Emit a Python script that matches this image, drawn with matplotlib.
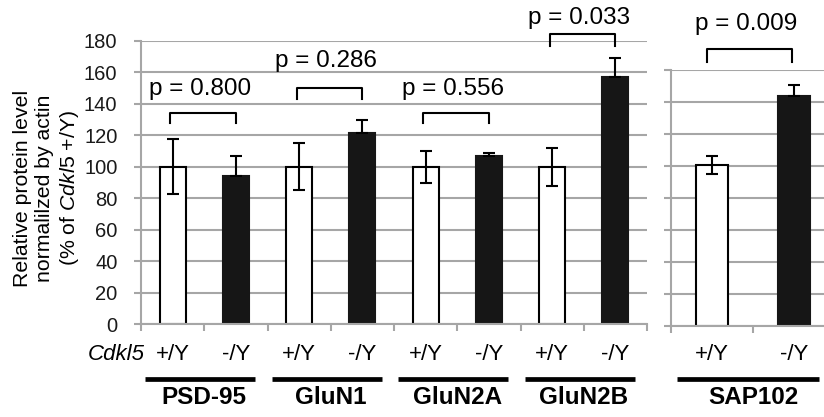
import numpy as np
import matplotlib
matplotlib.use("Agg")
import matplotlib.pyplot as plt
from matplotlib import transforms
from matplotlib.lines import Line2D

plt.rcParams['font.family'] = ['Liberation Sans', 'DejaVu Sans']
plt.rcParams['mathtext.fontset'] = 'custom'
plt.rcParams['mathtext.it'] = 'Liberation Sans:italic'
plt.rcParams['mathtext.rm'] = 'Liberation Sans'

# data
groups = ['PSD-95', 'GluN1', 'GluN2A', 'GluN2B']
wt_mean = [100, 100, 100, 100]
wt_err = [17.6, 15, 10, 12]
ko_mean = [94, 121.5, 107, 157]
ko_err = [13, 8.5, 2, 12]
p_vals = ['0.800', '0.286', '0.556', '0.033']

sap_group = 'SAP102'
sap_mean = [100.6, 143.5]
sap_err = [5.5, 7]
sap_p = '0.009'

genotypes = ['+/Y', '-/Y']

# layout for brackets / p-value texts (data units)
bracket_top = [134, 150.4, 134, 184.3]
bracket_leg = [127.6, 143, 127.6, 177]
ptext_y = [149.5, 167, 149.5, 194.5]
sap_bracket = (173, 165, 189)

grid_c = '#a6a6a6'
dark = '#161616'
W, H = 824, 417

fig = plt.figure(figsize=(W / 100, H / 100), dpi=100)
ax = fig.add_axes([141 / W, (H - 324) / H, 506 / W, 283 / H])
ax2 = fig.add_axes([671 / W, (H - 326) / H, 164 / W, 256 / H])


def style(a, ymax, n):
    a.set_ylim(0, ymax)
    a.set_xlim(-0.5, n - 0.5)
    a.set_yticks(np.arange(0, ymax + 1, 20))
    a.set_xticks(np.arange(n + 1) - 0.5)
    a.set_xticklabels([])
    a.yaxis.grid(True, color=grid_c, lw=1.5)
    a.set_axisbelow(True)
    for s in ['top', 'right']:
        a.spines[s].set_visible(False)
    for s in ['left', 'bottom']:
        a.spines[s].set_color(grid_c)
        a.spines[s].set_linewidth(1.5)
    a.tick_params(axis='both', colors=grid_c, length=5, width=1.5, direction='out')
    a.tick_params(axis='y', labelcolor='#1a1a1a', labelsize=14.5, pad=12)


style(ax, 180, 8)
style(ax2, 160, 2)
ax2.set_yticklabels([])

eb = dict(fmt='none', ecolor='black', elinewidth=1.5, capsize=4.5, capthick=1.5, zorder=3)

bw = 0.41
xw = np.arange(len(groups)) * 2
xk = xw + 1
ax.bar(xw, wt_mean, bw, color='white', edgecolor='black', lw=1.5, zorder=2)
ax.bar(xk, ko_mean, bw, color=dark, edgecolor=dark, lw=1.5, zorder=2)
ax.errorbar(xw, wt_mean, yerr=wt_err, **eb)
ax.errorbar(xk, ko_mean, yerr=[np.zeros(len(ko_err)), ko_err], **eb)

for i in range(len(groups)):
    x0, x1 = xw[i] - 0.04, xk[i]
    ax.plot([x0, x0, x1, x1], [bracket_leg[i], bracket_top[i], bracket_top[i], bracket_leg[i]],
            color='black', lw=1.5, clip_on=False, zorder=4)
    ax.text(xw[i] + 0.43, ptext_y[i], 'p = ' + p_vals[i], ha='center', va='center',
            fontsize=17.5, clip_on=False)

xs = np.arange(2)
ax2.bar(xs, sap_mean, 0.4, color=['white', dark], edgecolor=['black', dark], lw=1.5, zorder=2)
ax2.errorbar(xs[:1], sap_mean[:1], yerr=sap_err[:1], **eb)
ax2.errorbar(xs[1:], sap_mean[1:], yerr=[[0], sap_err[1:]], **eb)
bt, bl, py = sap_bracket
ax2.plot([-0.06, -0.06, 0.98, 0.98], [bl, bt, bt, bl], color='black', lw=1.5, clip_on=False)
ax2.text(0.415, py, 'p = ' + sap_p, ha='center', va='center', fontsize=17.5, clip_on=False)

# genotype labels, group underlines and group names
lab_y = (H - 355) / H
line_y = (H - 379) / H
name_y = (H - 397) / H
for a, n, names in [(ax, 8, groups), (ax2, 2, [sap_group])]:
    tr = transforms.blended_transform_factory(a.transData, fig.transFigure)
    for k in range(n):
        fig.text(k, lab_y, genotypes[k % 2], transform=tr, ha='center', va='center',
                 fontsize=16)
    for g, name in enumerate(names):
        c = 2 * g + 0.5
        fig.add_artist(Line2D([c - 0.93, c + 0.81], [line_y, line_y], transform=tr,
                              color='black', lw=3.4, solid_capstyle='butt'))
        fig.text(c, name_y, name, transform=tr, ha='center', va='center',
                 fontsize=17.5, fontweight='bold')

fig.text(145 / W, lab_y, 'Cdkl5', ha='right', va='center', fontsize=16, style='italic')

fig.text(47 / W, (H - 188) / H,
         'Relative protein level\nnormalilzed by actin\n(% of $\\mathit{Cdkl5}$ +/Y)',
         rotation=90, ha='center', va='center', fontsize=15.3, linespacing=1.2)

fig.savefig('out.png', dpi=100)
